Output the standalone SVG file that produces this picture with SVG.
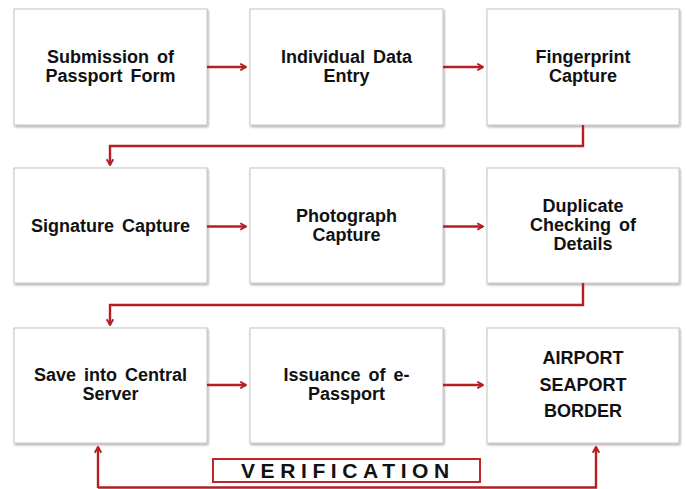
<svg xmlns="http://www.w3.org/2000/svg" width="686" height="489" viewBox="0 0 686 489">
<defs>
<filter id="sh" x="-5%" y="-5%" width="115%" height="115%">
<feDropShadow dx="1" dy="1.5" stdDeviation="1.2" flood-color="#000" flood-opacity="0.35"/>
</filter>
<marker id="ah" viewBox="0 0 10 10" refX="8.5" refY="5" markerWidth="3.4" markerHeight="3.4" orient="auto" markerUnits="strokeWidth">
<path d="M1.5,1 L8.5,5 L1.5,9" fill="none" stroke="#b51f24" stroke-width="2.4" stroke-linejoin="miter"/>
</marker>
<style>
.box{fill:#fff;stroke:#c4c4c4;stroke-width:1;filter:url(#sh)}
.t{font-family:"Liberation Sans",Arial,sans-serif;font-weight:bold;font-size:18px;fill:#111;text-anchor:middle;word-spacing:3px}
.c{fill:none;stroke:#b51f24;stroke-width:2.4}
.v{font-family:"Liberation Sans",Arial,sans-serif;font-weight:bold;font-size:21px;fill:#111;letter-spacing:5.6px}
</style>
</defs>
<rect width="686" height="489" fill="#fff"/>
<g id="n1"><rect class="box" x="14" y="9" width="193" height="116"/><text class="t" x="110.5" y="63">Submission of</text><text class="t" x="110.5" y="82">Passport Form</text></g>
<g id="n2"><rect class="box" x="250" y="9" width="193" height="116"/><text class="t" x="346.5" y="63">Individual Data</text><text class="t" x="346.5" y="82">Entry</text></g>
<g id="n3"><rect class="box" x="487" y="9" width="192" height="116"/><text class="t" x="583" y="63">Fingerprint</text><text class="t" x="583" y="82">Capture</text></g>
<g id="n4"><rect class="box" x="14" y="168" width="193" height="115"/><text class="t" x="110.5" y="232">Signature Capture</text></g>
<g id="n5"><rect class="box" x="250" y="168" width="193" height="115"/><text class="t" x="346.5" y="222">Photograph</text><text class="t" x="346.5" y="241">Capture</text></g>
<g id="n6"><rect class="box" x="487" y="168" width="192" height="115"/><text class="t" x="583" y="212">Duplicate</text><text class="t" x="583" y="231">Checking of</text><text class="t" x="583" y="250">Details</text></g>
<g id="n7"><rect class="box" x="14" y="328" width="193" height="115"/><text class="t" x="110.5" y="381">Save into Central</text><text class="t" x="110.5" y="400">Server</text></g>
<g id="n8"><rect class="box" x="250" y="328" width="193" height="115"/><text class="t" x="346.5" y="381">Issuance of e-</text><text class="t" x="346.5" y="400">Passport</text></g>
<g id="n9"><rect class="box" x="487" y="328" width="192" height="115"/><text class="t" x="583" y="364">AIRPORT</text><text class="t" x="583" y="390.5">SEAPORT</text><text class="t" x="583" y="416.5">BORDER</text></g>
<g id="verification"><rect x="213" y="459" width="267" height="23" fill="#fff" stroke="#c0272d" stroke-width="2"/><text class="v" x="241" y="477.5">VERIFICATION</text></g>
<g id="connectors">
<path class="c" d="M207,67 H246" marker-end="url(#ah)"/>
<path class="c" d="M443,67 H483" marker-end="url(#ah)"/>
<path class="c" d="M583,125 V146 H110 V165" marker-end="url(#ah)"/>
<path class="c" d="M207,226.5 H246" marker-end="url(#ah)"/>
<path class="c" d="M443,226.5 H483" marker-end="url(#ah)"/>
<path class="c" d="M583,283 V305 H110 V325" marker-end="url(#ah)"/>
<path class="c" d="M207,385 H246" marker-end="url(#ah)"/>
<path class="c" d="M443,385 H483" marker-end="url(#ah)"/>
<path class="c" d="M98,488 V447" marker-end="url(#ah)"/>
<path class="c" d="M98,487.5 H596 V447" marker-end="url(#ah)"/>
</g>
</svg>
